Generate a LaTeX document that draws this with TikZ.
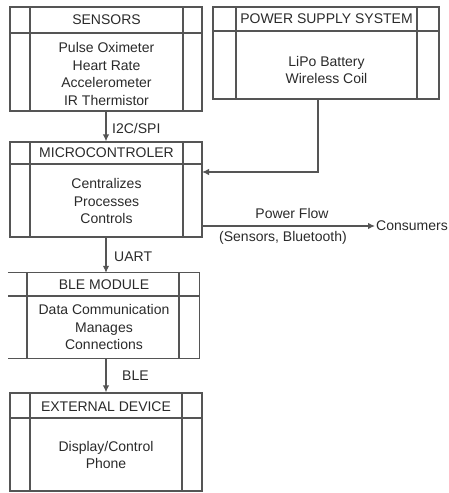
\documentclass[tikz,border=0pt]{standalone}
\usepackage{fontspec}
\setmainfont{Liberation Sans}
\usetikzlibrary{arrows.meta,calc}
\definecolor{ln}{HTML}{555555}
\definecolor{tx}{HTML}{2A2A2A}
\tikzset{
  boxframe/.style={rectangle, draw=ln, line width=1.2pt, inner sep=0pt},
  boxnoframe/.style={rectangle, inner sep=0pt},
  inline/.style={draw=ln, line width=1.2pt},
  txt/.style={text=tx, font=\fontsize{14}{17.5}\selectfont, align=center, inner sep=0pt},
  arr/.style={draw=ln, line width=1.2pt, -{Latex[length=7pt,width=6.5pt]}},
}
\begin{document}
\begin{tikzpicture}[x=1pt,y=-1pt]
\useasboundingbox (0,0) rectangle (449,493);
% SENSORS
\node[boxframe, minimum width=192pt, minimum height=104pt] (sens) at (106,59) {};
\draw[inline] (30,7) -- (30,111) (183,7) -- (183,111) (10,33) -- (202,33);
\node[txt] (sensh) at (106.5,20) {SENSORS};
\node[txt] (sensb) at (106.5,74) {Pulse Oximeter\\Heart Rate\\Accelerometer\\IR Thermistor};
% POWER
\node[boxframe, minimum width=226pt, minimum height=92pt] (pow) at (326,53) {};
\draw[inline] (236,7) -- (236,99) (417,7) -- (417,99) (213,31) -- (439,31);
\node[txt] (powh) at (326.5,19) {POWER SUPPLY SYSTEM};
\node[txt] (powb) at (326.5,70) {LiPo Battery\\Wireless Coil};
% MCU
\node[boxframe, minimum width=192pt, minimum height=95pt] (mcu) at (106,189.5) {};
\draw[inline] (30,142) -- (30,237) (183,142) -- (183,237) (10,164) -- (202,164);
\node[txt] (mcuh) at (106.5,153) {MICROCONTROLER};
\node[txt] (mcub) at (106.5,201) {Centralizes\\Processes\\Controls};
% BLE
\node[boxnoframe, minimum width=191pt, minimum height=85pt] (ble) at (103.5,315.5) {};
\draw[inline] (ble.north west) -- (ble.north east) -- (ble.south east) -- (ble.south west);
\draw[inline] (27,273) -- (27,358) (179,273) -- (179,358) (8,296) -- (199,296);
\node[txt] (bleh) at (104,285) {BLE MODULE};
\node[txt] (bleb) at (104,327) {Data Communication\\Manages\\Connections};
% EXTERNAL
\node[boxframe, minimum width=192pt, minimum height=98pt] (ext) at (106,442) {};
\draw[inline] (30,393) -- (30,491) (182,393) -- (182,491) (10,418) -- (202,418);
\node[txt] (exth) at (106,407) {EXTERNAL DEVICE};
\node[txt] (extb) at (106,455) {Display/Control\\Phone};
% connectors
\draw[arr] (sens.south) -- (mcu.north);
\node[txt, anchor=west] (i2c) at (112,128) {I2C/SPI};
\draw[arr] (mcu.south) -- (mcu.south |- ble.north);
\node[txt, anchor=west] (uart) at (114,257) {UART};
\draw[arr] (mcu.south |- ble.south) -- (mcu.south |- ext.north);
\node[txt, anchor=west] (blel) at (122,376) {BLE};
\coordinate (pwrdown) at (318,99);
\coordinate (pwrin) at (202,172);
\draw[arr] (pwrdown) |- (pwrin);
\node[txt, anchor=west] (cons) at (376,226) {Consumers};
\coordinate (flowout) at (202,226);
\draw[arr] (flowout) -- ([xshift=-1pt]cons.west);
\node[txt] (pf) at (292,213) {Power Flow};
\node[txt] (sb) at (283,238) {(Sensors, Bluetooth)};
\end{tikzpicture}
\end{document}
